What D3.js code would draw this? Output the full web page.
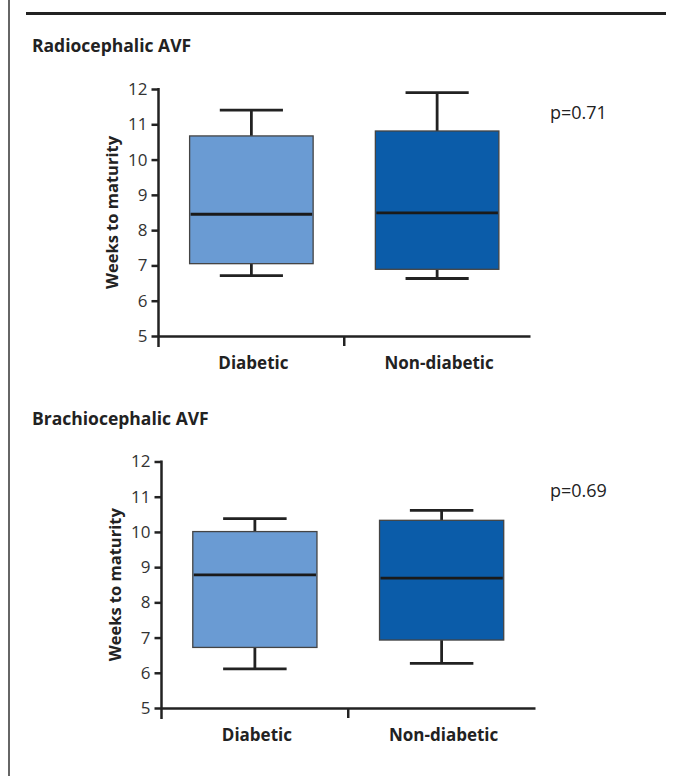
<!DOCTYPE html>
<html lang="en">
<head>
    <meta charset="UTF-8">
    <title>Weeks to maturity: Radiocephalic vs Brachiocephalic AVF</title>
    <script src="https://d3js.org/d3.v7.min.js"></script>
    <style>
        body { margin: 0; background: #fff; }
        svg { display: block; font-family: "Open Sans", sans-serif; }
    </style>
</head>
<body>
    <div id="chart"></div>

    <script>
        // Groups and box plot values
        const groups = ["Diabetic", "Non-diabetic"];
        const yTicks = [5, 6, 7, 8, 9, 10, 11, 12];

        // Radiocephalic AVF
        const radioMin = [6.71, 6.63];
        const radioQ1 = [7.05, 6.89];
        const radioMedian = [8.45, 8.49];
        const radioQ3 = [10.67, 10.81];
        const radioMax = [11.40, 11.90];
        const radioP = "p=0.71";

        // Brachiocephalic AVF
        const brachioMin = [6.11, 6.27];
        const brachioQ1 = [6.72, 6.93];
        const brachioMedian = [8.78, 8.69];
        const brachioQ3 = [10.01, 10.33];
        const brachioMax = [10.38, 10.61];
        const brachioP = "p=0.69";

        const colors = ["#6a9bd3", "#0b5ca9"];

        const width = 682, height = 776;

        const svg = d3.select("#chart").append("svg")
            .attr("width", width)
            .attr("height", height);

        // Frame: grey left border and top rule
        svg.append("line")
            .attr("x1", 9).attr("x2", 9)
            .attr("y1", 0).attr("y2", height)
            .attr("stroke", "#666").attr("stroke-width", 2);
        svg.append("line")
            .attr("x1", 26).attr("x2", 666)
            .attr("y1", 13.5).attr("y2", 13.5)
            .attr("stroke", "#222").attr("stroke-width", 3);

        const panels = [
            { title: "Radiocephalic AVF", titleY: 52, left: 158.5, right: 530, top: 89, bottom: 336, pY: 119,
              min: radioMin, q1: radioQ1, med: radioMedian, q3: radioQ3, max: radioMax, p: radioP },
            { title: "Brachiocephalic AVF", titleY: 425, left: 161.5, right: 535, top: 461.5, bottom: 708, pY: 497,
              min: brachioMin, q1: brachioQ1, med: brachioMedian, q3: brachioQ3, max: brachioMax, p: brachioP }
        ];

        panels.forEach(panel => {
            const g = svg.append("g");

            g.append("text")
                .attr("x", 32)
                .attr("y", panel.titleY)
                .attr("font-size", "17.5px")
                .attr("font-weight", "bold")
                .attr("fill", "#222")
                .text(panel.title);

            const x = d3.scaleBand().domain(groups).range([panel.left, panel.right]);
            const y = d3.scaleLinear().domain([5, 12]).range([panel.bottom, panel.top]);
            const bw = x.bandwidth();

            // Y axis
            const yAxis = g.append("g")
                .attr("transform", `translate(${panel.left},0)`)
                .call(d3.axisLeft(y).tickValues(yTicks).tickFormat(d3.format("d"))
                    .tickSize(7).tickPadding(4).tickSizeOuter(0));
            yAxis.selectAll("line, path").attr("stroke", "#222").attr("stroke-width", 2.5);
            yAxis.select(".domain").attr("d", `M0,${panel.top - 1}V${panel.bottom + 11}`);
            yAxis.selectAll("text")
                .attr("font-family", "'Open Sans', sans-serif")
                .attr("font-size", "17px")
                .attr("fill", "#333");

            // X axis line with category separator tick
            const xAxis = g.append("g")
                .attr("transform", `translate(0,${panel.bottom})`)
                .call(d3.axisBottom(x).tickSize(0).tickSizeOuter(0).tickFormat(""));
            xAxis.select(".domain").attr("stroke", "#222").attr("stroke-width", 2.5);
            xAxis.append("line")
                .attr("x1", x(groups[1])).attr("x2", x(groups[1]))
                .attr("y1", 0).attr("y2", 10)
                .attr("stroke", "#222").attr("stroke-width", 2.5);

            // Category labels
            g.selectAll(".cat")
                .data(groups)
                .join("text")
                .attr("x", d => x(d) + bw / 2 + 2)
                .attr("y", panel.bottom + 33)
                .attr("text-anchor", "middle")
                .attr("font-size", "17px")
                .attr("font-weight", "bold")
                .attr("fill", "#222")
                .text(d => d);

            // Y axis label
            g.append("text")
                .attr("transform", `translate(${panel.left - 41},${(panel.top + panel.bottom) / 2}) rotate(-90)`)
                .attr("text-anchor", "middle")
                .attr("font-size", "16.5px")
                .attr("font-weight", "bold")
                .attr("fill", "#222")
                .text("Weeks to maturity");

            // Boxes
            groups.forEach((grp, i) => {
                const cx = x(grp) + bw / 2;
                const boxW = bw * 0.665;
                const capW = bw * 0.34;

                // whiskers
                g.append("line")
                    .attr("x1", cx).attr("x2", cx)
                    .attr("y1", y(panel.max[i])).attr("y2", y(panel.q3[i]))
                    .attr("stroke", "#222").attr("stroke-width", 2.8);
                g.append("line")
                    .attr("x1", cx).attr("x2", cx)
                    .attr("y1", y(panel.q1[i])).attr("y2", y(panel.min[i]))
                    .attr("stroke", "#222").attr("stroke-width", 2.8);
                [panel.max[i], panel.min[i]].forEach(v => {
                    g.append("line")
                        .attr("x1", cx - capW / 2).attr("x2", cx + capW / 2)
                        .attr("y1", y(v)).attr("y2", y(v))
                        .attr("stroke", "#222").attr("stroke-width", 2.8);
                });

                g.append("rect")
                    .attr("x", cx - boxW / 2)
                    .attr("y", y(panel.q3[i]))
                    .attr("width", boxW)
                    .attr("height", y(panel.q1[i]) - y(panel.q3[i]))
                    .attr("fill", colors[i])
                    .attr("stroke", "#444")
                    .attr("stroke-width", 1.3);

                g.append("line")
                    .attr("x1", cx - boxW / 2 + 1).attr("x2", cx + boxW / 2 - 1)
                    .attr("y1", y(panel.med[i])).attr("y2", y(panel.med[i]))
                    .attr("stroke", "#1a1a1a").attr("stroke-width", 2.8);
            });

            // p value
            g.append("text")
                .attr("x", 550)
                .attr("y", panel.pY)
                .attr("font-size", "18px")
                .attr("fill", "#222")
                .text(panel.p);
        });
    </script>
</body>
</html>
